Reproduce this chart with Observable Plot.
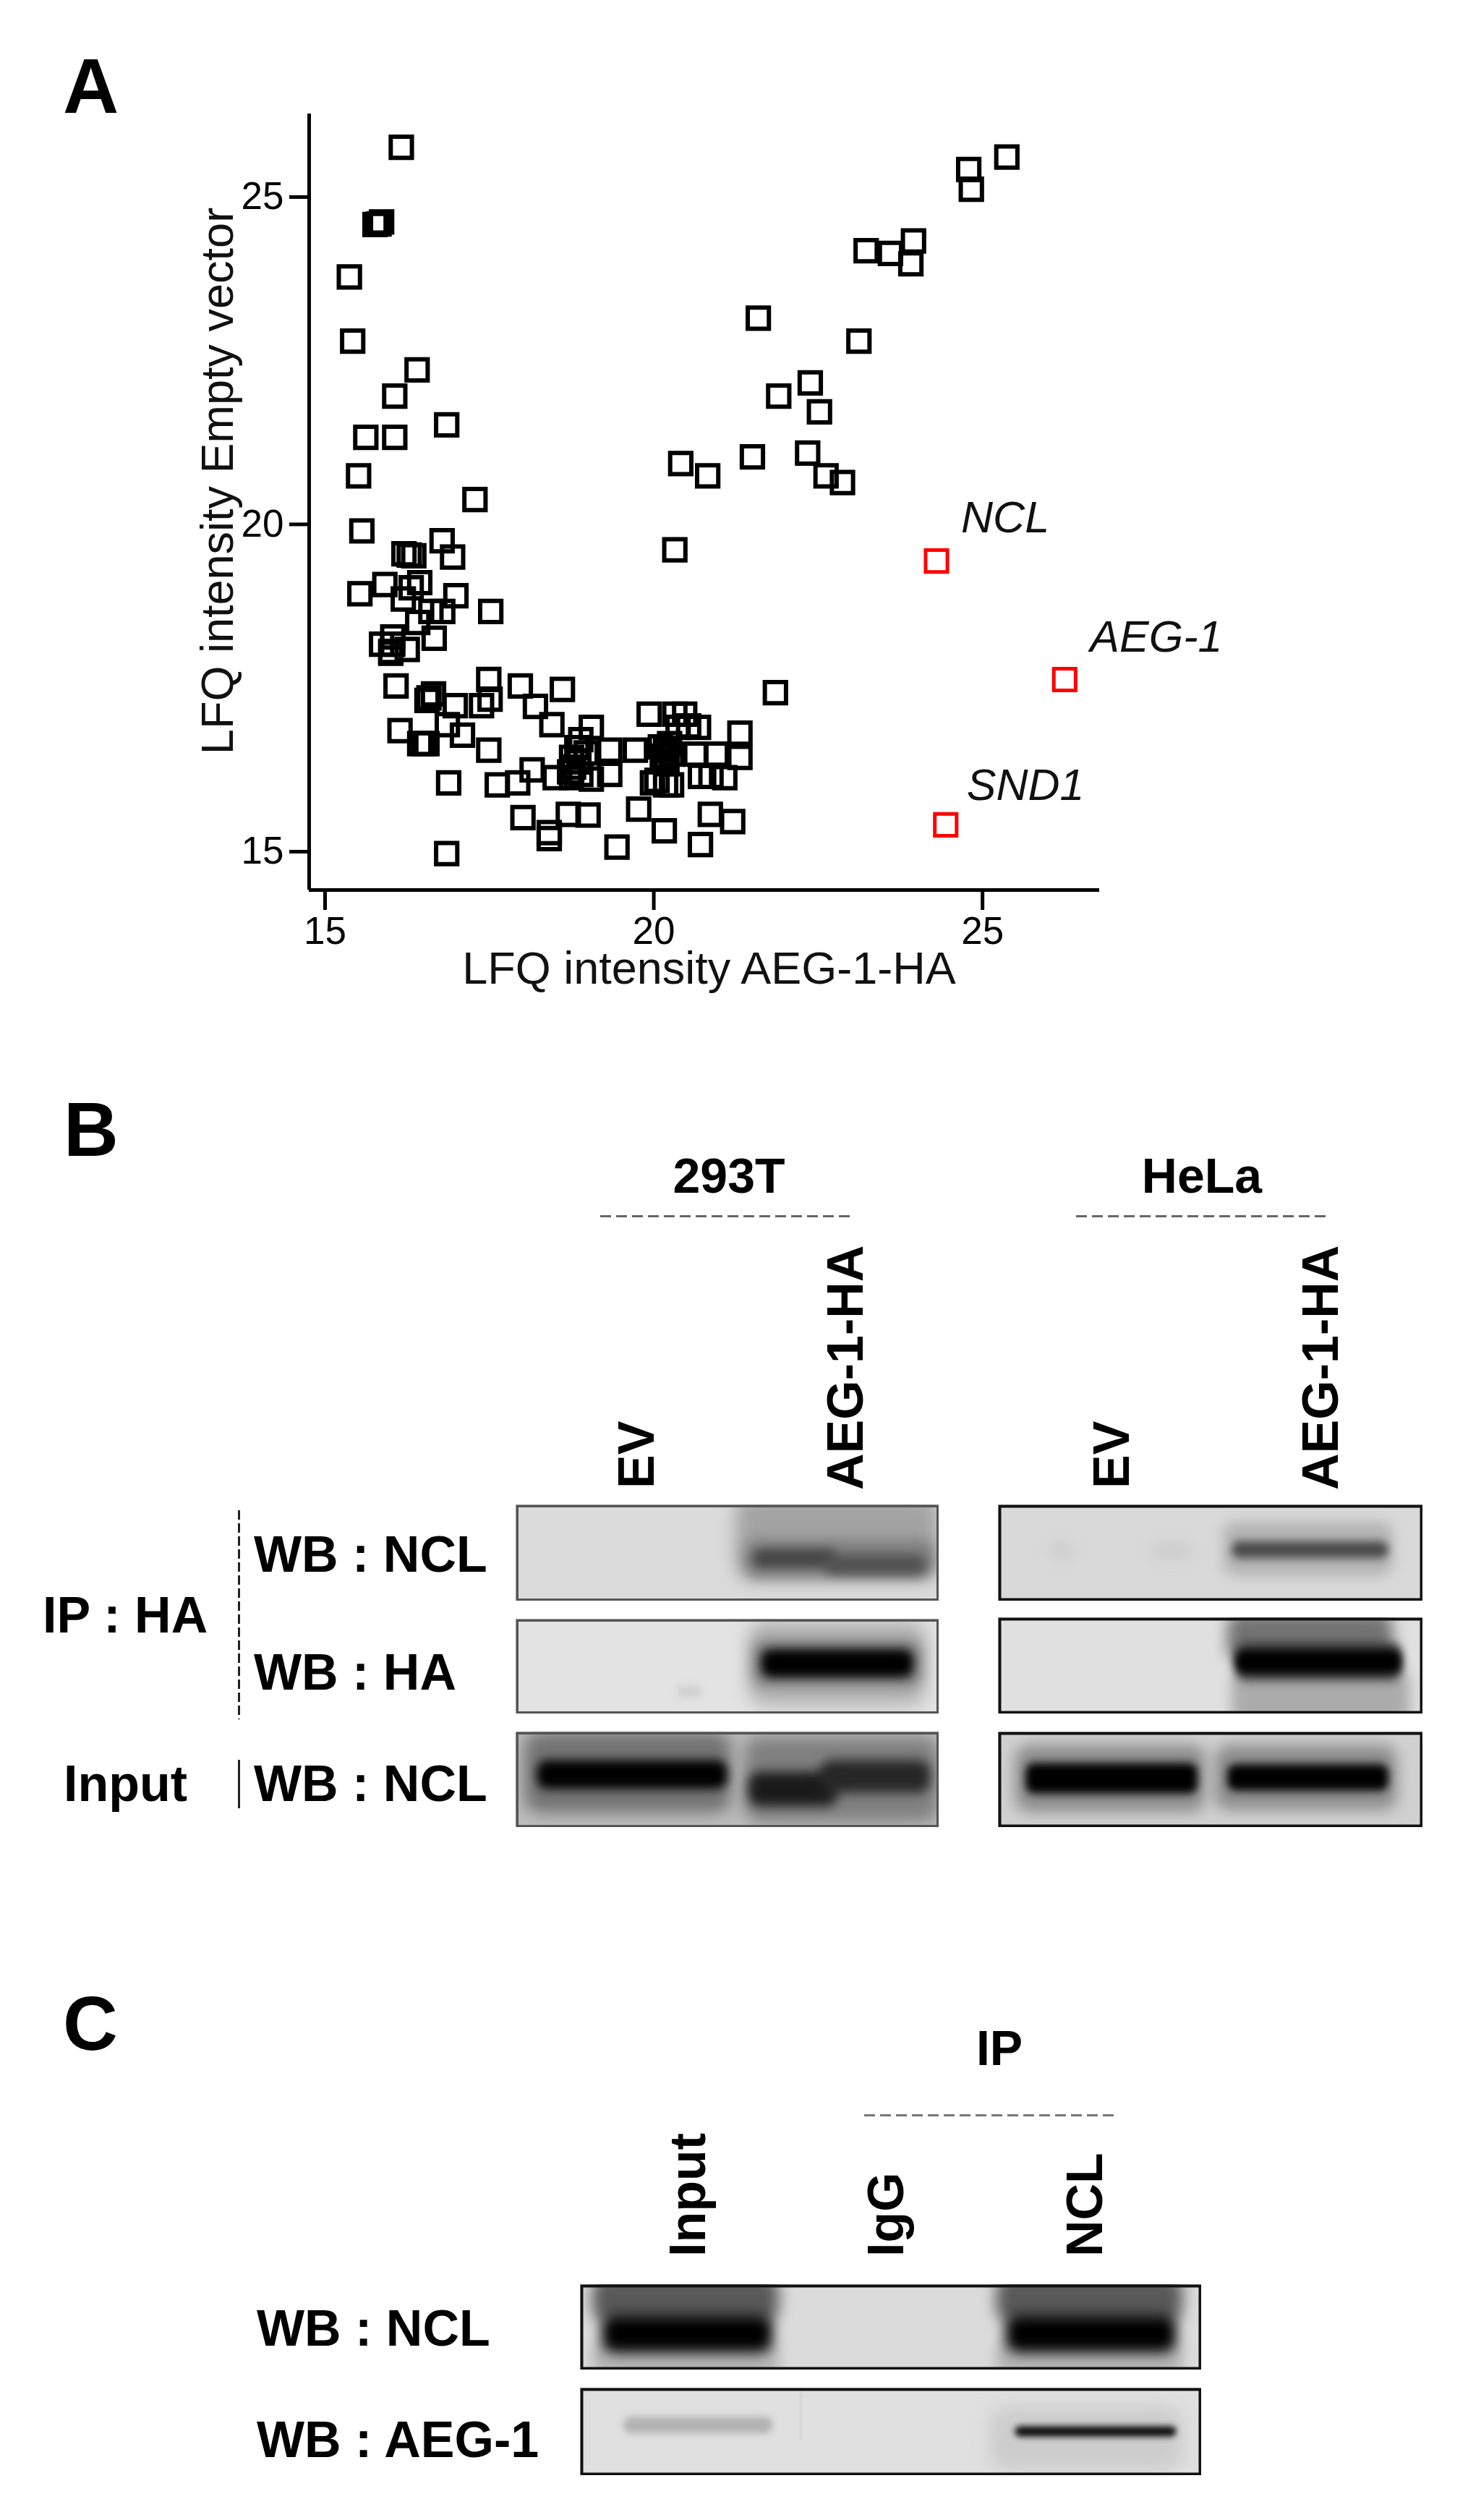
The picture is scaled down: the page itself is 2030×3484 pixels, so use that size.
<!DOCTYPE html>
<html>
<head>
<meta charset="utf-8">
<script src="https://cdn.jsdelivr.net/npm/d3@7"></script>
<script src="https://cdn.jsdelivr.net/npm/@observablehq/plot@0.6"></script>
<style>
html,body{margin:0;padding:0;background:#fff;}
#page{position:relative;width:2030px;height:3484px;overflow:hidden;font-family:"Liberation Sans",Arial,sans-serif;color:#000;}
#page svg{position:absolute;background:transparent;max-width:none;}
.t{position:absolute;white-space:nowrap;line-height:1;transform-origin:0 0;}
.dash{position:absolute;}
</style>
</head>
<body>
<div id="page"></div>
<script>
// Panel A: LFQ intensities (log2)
const otherAEG = [16.16,15.76,15.86,15.82,15.37,15.42,16.40,16.06,15.62,16.06,16.85,15.51,17.28,15.56,16.78,16.94,16.20,16.28,16.35,16.44,16.31,15.91,15.53,16.99,16.19,17.52,16.79,16.61,16.41,16.66,16.03,15.86,16.00,16.25,16.00,16.03,
16.08,16.65,16.58,16.55,17.49,17.51,17.38,17.97,18.61,18.20,16.98,18.45,16.86,16.14,17.09,16.50,16.44,16.55,17.49,18.15,17.93,17.62,16.88,18.50,18.01,18.70,19.00,18.41,18.41,16.85,
19.05,18.89,19.05,18.83,18.75,18.86,18.72,18.89,18.78,18.97,18.75,19.33,19.72,19.33,19.44,
19.93,20.32,20.47,20.37,20.68,20.53,21.31,21.31,20.64,20.95,20.10,20.18,20.15,20.24,20.13,20.20,20.27,20.18,19.98,20.27,20.05,20.71,20.87,21.08,19.77,20.16,20.86,21.20,20.71,21.85,20.32,
25.37,24.79,24.83,23.95,23.23,23.60,23.91,21.59,23.12,22.38,21.90,22.52,20.41,20.82,21.50,22.34,22.62,22.87];
const otherEV = [25.76,24.58,24.62,24.59,23.78,22.80,22.36,21.96,21.33,21.33,21.52,20.74,20.38,19.90,19.75,19.50,19.55,19.53,19.52,19.11,19.03,19.08,18.94,18.91,18.86,18.67,18.67,18.67,18.50,18.26,18.28,18.17,18.06,18.09,18.03,18.17,
17.53,17.41,17.35,17.31,17.63,17.33,17.23,17.53,17.48,17.22,17.23,16.94,16.94,16.85,16.78,16.65,16.65,16.65,16.55,16.25,16.05,16.02,16.05,16.13,15.52,15.57,15.56,15.29,15.20,14.97,
16.90,16.71,16.11,16.59,16.44,16.37,16.22,16.18,16.29,16.51,16.13,16.55,16.55,16.18,15.07,
17.10,17.10,17.10,16.90,16.90,16.92,16.81,16.44,16.49,16.49,16.60,16.55,16.46,16.65,16.38,16.40,16.49,16.02,16.05,16.02,16.09,16.15,16.15,16.13,15.65,15.32,15.57,15.46,15.11,17.43,19.61,
25.61,25.42,25.12,24.33,24.18,24.14,23.98,23.15,22.80,22.16,21.96,21.72,20.93,20.74,21.03,21.09,20.74,20.64];
const hitNames = ["NCL","AEG-1","SND1"];
const hitAEG = [24.30,26.25,24.44];
const hitEV = [19.44,17.63,15.41];
const tickValues = [15,20,25];

// Blot bands: [lane start %, lane end %, top %, bottom %, density 0-1, softness]
const bg293NCL = 0.14;
const bands293NCL = [[52,100,-10,78,.36,12],[54,99,36,76,.5,9],[56,76,46,66,.72,7],[73,97,52,73,.68,7]];
const bg293HA = 0.11;
const bands293HA = [[38,44,70,84,.18,5],[55,97,2,92,.3,12],[56,96,22,72,.5,9],[58,94,32,62,1,7]];
const bg293Input = 0.26;
const bands293Input = [[2,51,0,85,.55,11],[54,100,5,95,.5,11],[5,50,30,60,1,7],[55,76,42,78,.9,8],[72,98,30,64,.85,8]];
const bgHelaNCL = 0.15;
const bandsHelaNCL = [[12,18,38,58,.19,8],[36,46,38,58,.19,8],[53,93,18,74,.3,9],[55,92,38,56,.7,6]];
const bgHelaHA = 0.12;
const bandsHelaHA = [[54,93,-5,46,.55,10],[55,97,55,110,.33,9],[56,95,26,66,.75,7],[56,95,34,58,1,6]];
const bgHelaInput = 0.18;
const bandsHelaInput = [[4,49,14,84,.45,10],[51,94,14,82,.45,10],[6.5,47,33,65,1,6],[54,92,34,62,1,6]];
const bgIpNCL = 0.14;
const bandsIpNCL = [[2,32,-10,45,.65,10],[67,97,-10,45,.65,10],[2,32,65,110,.3,9],[67,97,65,110,.3,9],[3.5,31,36,80,1,9],[68.5,96,36,80,1,9]];
const bgIpAEG = 0.12;
const bandsIpAEG = [[35.4,35.8,0,60,.16,1],[7,31,33,52,.3,5],[66,97,22,95,.2,12],[70,96,44,56,.95,4]];

const page = document.getElementById("page");
const FF = '"Liberation Sans", Arial, sans-serif';

function place(el, left, top){ el.style.left = left+"px"; el.style.top = top+"px"; page.appendChild(el); return el; }

// ---------- Panel A ----------
const points = otherAEG.map((x,i)=>({x, y: otherEV[i]}));
const hits = hitNames.map((name,i)=>({name, x: hitAEG[i], y: hitEV[i]}));
const hitLabel = (name, dx, dy) => Plot.text(hits.filter(d=>d.name===name), {x:"x", y:"y", text:"name", textAnchor:"start", lineAnchor:"bottom", dx, dy, fontSize:61, fontStyle:"italic", fill:"#111"});
const scatter = Plot.plot({
  width:2030, height:1400,
  marginLeft:427, marginRight:510, marginTop:157, marginBottom:170,
  x:{domain:[14.758,26.78]},
  y:{domain:[14.414,26.27]},
  style:{fontFamily:FF, color:"#000", background:"transparent"},
  marks:[
    Plot.axisX({ticks:tickValues, tickSize:28, tickPadding:9, strokeWidth:5, fontSize:53, label:null, tickFormat:d=>d}),
    Plot.axisY({ticks:tickValues, tickSize:27, tickPadding:8, strokeWidth:5, fontSize:53, label:null, tickFormat:d=>d}),
    Plot.ruleX([14.758],{stroke:"#000",strokeWidth:5}),
    Plot.ruleY([14.414],{stroke:"#000",strokeWidth:5}),
    Plot.text(["LFQ intensity AEG-1-HA"],{frameAnchor:"bottom", lineAnchor:"bottom", dx:6.5, dy:129, fontSize:63, fill:"#111"}),
    Plot.text(["LFQ intensity Empty vector"],{frameAnchor:"left", rotate:-90, textAnchor:"middle", lineAnchor:"bottom", dx:-106, dy:-29, fontSize:63, fill:"#111"}),
    Plot.dot(points,{x:"x", y:"y", symbol:"square", r:16.5, fill:"none", stroke:"#000", strokeWidth:6}),
    Plot.dot(hits,{x:"x", y:"y", symbol:"square", r:17, fill:"none", stroke:"#f00", strokeWidth:5}),
    hitLabel("NCL",34,-40), hitLabel("AEG-1",35,-38), hitLabel("SND1",29,-34)
  ]
});
place(scatter,0,0);

// ---------- Blots ----------
function blot(left, top, width, height, bg, bands, border, borderWidth){
  const rows = bands.map(([x1,x2,y1,y2,density,soft])=>({x1,x2,y1,y2,density,soft}));
  const svg = Plot.plot({
    width, height, margin:0,
    x:{domain:[0,100],axis:null},
    y:{domain:[100,0],axis:null},
    color:{type:"linear",domain:[0,1],range:["#ffffff","#000000"],interpolate:"rgb"},
    style:{background:"transparent"},
    marks:[
      Plot.rect([{d:bg}],{x1:()=>0,x2:()=>100,y1:()=>0,y2:()=>100,fill:"d"}),
      ...rows.map(r=>Plot.rect([r],{x1:"x1",x2:"x2",y1:"y1",y2:"y2",fill:"density",rx:r.soft*2,imageFilter:`blur(${r.soft}px)`,clip:"frame"})),
      Plot.frame({stroke:border,strokeWidth:borderWidth,inset:borderWidth/2})
    ]
  });
  place(svg,left,top);
}
const X293=713, W293=585, XHeLa=1380, WHeLa=587;
blot(X293,2080,W293,133,bg293NCL,bands293NCL,"#555",3.5);
blot(X293,2238,W293,131,bg293HA,bands293HA,"#555",3.5);
blot(X293,2394,W293,132,bg293Input,bands293Input,"#555",3.5);
blot(XHeLa,2080,WHeLa,133,bgHelaNCL,bandsHelaNCL,"#111",4);
blot(XHeLa,2236,WHeLa,133,bgHelaHA,bandsHelaHA,"#111",4);
blot(XHeLa,2394,WHeLa,132,bgHelaInput,bandsHelaInput,"#111",4);
blot(802,3158,859,118,bgIpNCL,bandsIpNCL,"#111",4);
blot(802,3301,859,121,bgIpAEG,bandsIpAEG,"#111",4);

// ---------- Text and separators ----------
function label(text, x, baseline, {size=70, weight="bold", rotate=0, anchor="start"}={}){
  const el = document.createElement("div");
  el.className="t";
  el.textContent=text;
  el.style.fontSize=size+"px";
  el.style.fontWeight=weight;
  const shift = anchor==="middle" ? "translateX(-50%) " : "";
  el.style.transform = `rotate(${rotate}deg) ${shift}translateY(-0.8465em)`;
  place(el,x,baseline);
}
function hDash(x1,x2,y,color="#666"){
  const el=document.createElement("div"); el.className="dash";
  el.style.width=(x2-x1)+"px"; el.style.height="3px";
  el.style.background=`repeating-linear-gradient(90deg,${color} 0 15px,transparent 15px 22px)`;
  place(el,x1,y-1.5);
}
function vLine(x,y1,y2,dashed){
  const el=document.createElement("div"); el.className="dash";
  el.style.width="2.5px"; el.style.height=(y2-y1)+"px";
  el.style.background=dashed?"repeating-linear-gradient(180deg,#222 0 13px,transparent 13px 18px)":"#222";
  place(el,x-1,y1);
}
label("A",87,157,{size:107});
label("B",88,1598,{size:105});
label("C",87,2834,{size:105});

label("293T",1008,1649,{size:68,anchor:"middle"});
label("HeLa",1662,1649,{size:68,anchor:"middle"});
hDash(830,1175,1681);
hDash(1488,1835,1681);
label("EV",904,2058,{rotate:-90});
label("AEG-1-HA",1193,2060,{rotate:-90});
label("EV",1561,2058,{rotate:-90});
label("AEG-1-HA",1850,2060,{rotate:-90});
label("IP : HA",59,2257);
label("Input",88,2490);
label("WB : NCL",351,2173);
label("WB : HA",351,2336);
label("WB : NCL",351,2490);
vLine(330,2088,2377,true);
vLine(330,2433,2500,false);

label("IP",1382,2855,{size:68,anchor:"middle"});
hDash(1195,1542,2924,"#777");
label("Input",975,3120,{rotate:-90});
label("IgG",1249,3120,{rotate:-90});
label("NCL",1524,3120,{rotate:-90});
label("WB : NCL",355,3243);
label("WB : AEG-1",355,3397);
</script>
</body>
</html>
